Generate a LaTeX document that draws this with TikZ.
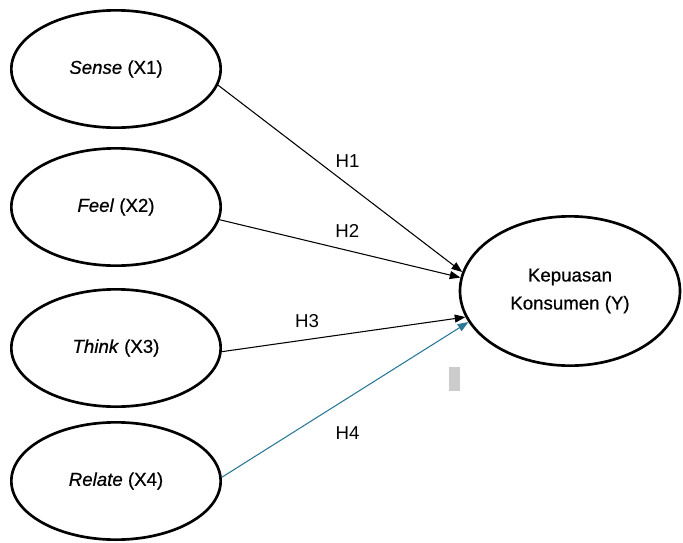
\documentclass[tikz,border=0pt]{standalone}
\usepackage{fontspec}
\setmainfont{Liberation Sans}
\newfontfamily\varfont[FakeBold=0.6]{Liberation Sans}
\usetikzlibrary{shapes.geometric,arrows.meta}
\definecolor{tealline}{RGB}{40,120,150}
\begin{document}
\begin{tikzpicture}[x=0.75pt, y=-0.75pt, line join=round, line cap=round,
        varbox/.style={ellipse, draw=black, line width=2pt, minimum width=157pt,
            minimum height=88pt, inner sep=0pt, align=center,
            font=\varfont\fontsize{14}{21}\selectfont},
        hyplabel/.style={font=\fontsize{14}{17}\selectfont, inner sep=1pt},
        hyparrow/.style={line width=0.8pt, -{Triangle[length=8pt, width=6pt]}}]
        \useasboundingbox (0,0) rectangle (683,543);

        \foreach \k/\nama/\yy in {1/Sense/69, 2/Feel/207, 3/Think/348, 4/Relate/481} {
            \node[varbox] (x\k) at (116,\yy) {\textit{\nama} (X\k)};
        }
        \node[varbox, minimum width=165pt, minimum height=112pt] (y) at (570,291)
            {Kepuasan\\Konsumen (Y)};

        \fill[gray!40] (449,367) rectangle (460,391);

        \draw[hyparrow] (x1.-9) -- node[hyplabel, pos=.53, above=11pt] {H1} (y.170);
        \draw[hyparrow] (x2.-7) -- node[hyplabel, pos=.53, above=8pt] {H2} (y.173);
        \draw[hyparrow] (x3.-2) -- node[hyplabel, pos=.35, above=7.5pt] {H3} (y.194);
        \draw[hyparrow, draw=tealline] (x4.2) -- node[hyplabel, pos=.51, below=20pt] {H4} (y.197);
    \end{tikzpicture}
\end{document}
